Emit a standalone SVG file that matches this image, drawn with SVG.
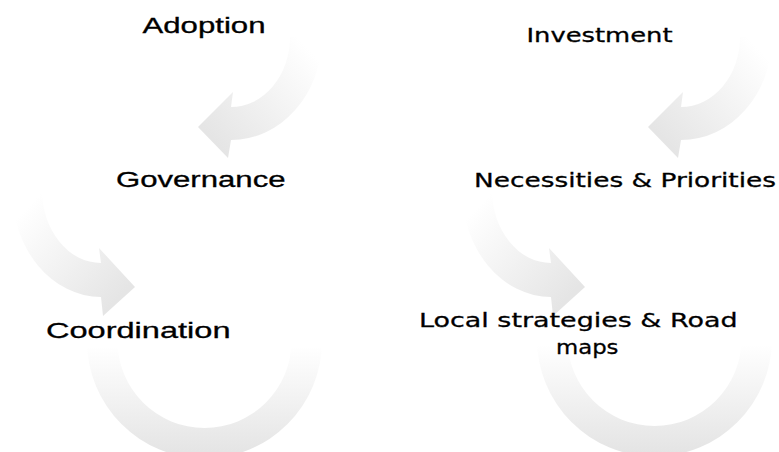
<svg xmlns="http://www.w3.org/2000/svg" width="779" height="452" viewBox="0 0 779 452">
  <style>
    .l { font-family: "Liberation Sans", Arial, sans-serif; font-size: 22px; fill: #000; stroke: #000; stroke-width: 0.3px; }
    .r { font-family: "DejaVu Sans", "Liberation Sans", sans-serif; font-size: 20px; fill: #000; stroke: #000; stroke-width: 0.3px; }
  </style>
  <defs>
    <linearGradient id="g1" gradientUnits="userSpaceOnUse" x1="318" y1="38" x2="210" y2="135">
      <stop offset="0.1" stop-color="#ffffff"/>
      <stop offset="1" stop-color="#e5e5e5"/>
    </linearGradient>
    <linearGradient id="g2" gradientUnits="userSpaceOnUse" x1="22" y1="192" x2="125" y2="290">
      <stop offset="0.1" stop-color="#ffffff"/>
      <stop offset="1" stop-color="#e5e5e5"/>
    </linearGradient>
    <linearGradient id="g3" gradientUnits="userSpaceOnUse" x1="0" y1="341" x2="0" y2="455">
      <stop offset="0.05" stop-color="#ffffff"/>
      <stop offset="1" stop-color="#e4e4e4"/>
    </linearGradient>
    <path id="a1" d="M322,37 A91,103 0 0 1 231,140 L228,158 L198,127 L233,92 L231,107 A59,70 0 0 0 290,37 Z"/>
    <path id="a2" d="M12,190 A89,107 0 0 0 101,297 L103,316 L135,287 L99,248 L101,263 A59,73 0 0 1 42,190 Z"/>
    <path id="a3" d="M87,341 A117.5,117.5 0 0 0 322,341 L291.5,341 A87,87 0 0 1 117.5,341 Z"/>
  </defs>
  <g id="connectors">
    <use href="#a1" fill="url(#g1)"/>
    <use href="#a2" fill="url(#g2)"/>
    <use href="#a3" fill="url(#g3)"/>
    <g transform="translate(450,0)">
      <use href="#a1" fill="url(#g1)"/>
      <use href="#a2" fill="url(#g2)"/>
    </g>
    <g transform="translate(450,-2)">
      <use href="#a3" fill="url(#g3)"/>
    </g>
  </g>
  <g id="adoption"><text class="l" x="142.5" y="33.3" textLength="123" lengthAdjust="spacingAndGlyphs">Adoption</text></g>
  <g id="governance"><text class="l" x="116" y="186.7" textLength="169.5" lengthAdjust="spacingAndGlyphs">Governance</text></g>
  <g id="coordination"><text class="l" x="46" y="338.3" textLength="184.5" lengthAdjust="spacingAndGlyphs">Coordination</text></g>
  <g id="investment"><text class="r" x="526.5" y="42.3" textLength="146" lengthAdjust="spacingAndGlyphs">Investment</text></g>
  <g id="necessities"><text class="r" x="474" y="186.7" textLength="302" lengthAdjust="spacingAndGlyphs">Necessities &amp; Priorities</text></g>
  <g id="local-strategies">
    <text class="r" x="419" y="327" textLength="318.5" lengthAdjust="spacingAndGlyphs">Local strategies &amp; Road</text>
    <text class="r" x="556" y="354" textLength="62.5" lengthAdjust="spacingAndGlyphs">maps</text>
  </g>
</svg>
